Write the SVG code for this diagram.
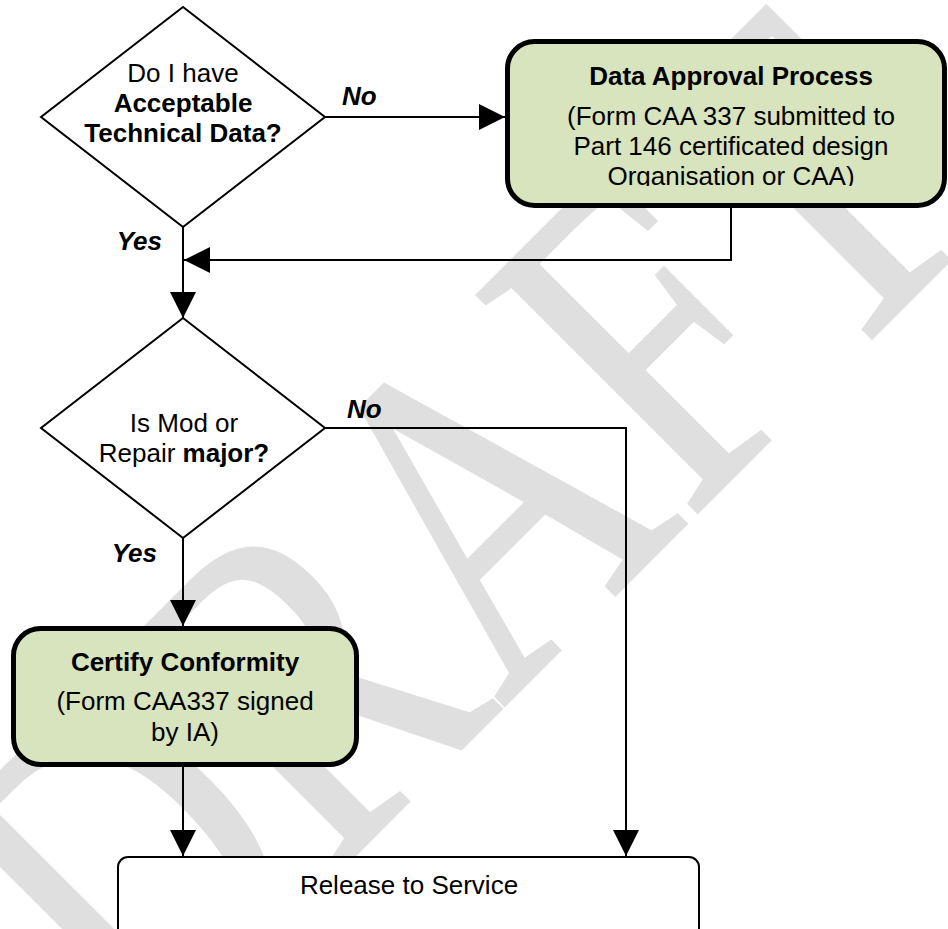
<svg xmlns="http://www.w3.org/2000/svg" width="948" height="929" viewBox="0 0 948 929">
<defs>
<marker id="arr" markerUnits="userSpaceOnUse" markerWidth="26" markerHeight="26" refX="26" refY="13" orient="auto"><path d="M0,0 L26,13 L0,26 z" fill="#000"/></marker>
<clipPath id="clipData"><rect x="505" y="39" width="443" height="147"/></clipPath>
</defs>
<style>
.t{font-family:"Liberation Sans",Arial,sans-serif;font-size:26px;fill:#000;text-anchor:middle}
.b{font-weight:bold}
.lbl{font-family:"Liberation Sans",Arial,sans-serif;font-size:26px;font-weight:bold;font-style:italic;fill:#000}
.dia{fill:#fff;stroke:#000;stroke-width:2}
.proc{fill:#d7e4bd;stroke:#000;stroke-width:5}
.plain{fill:#fff;stroke:#000;stroke-width:2}
.conn{fill:none;stroke:#000;stroke-width:2;marker-end:url(#arr)}
.wm{font-family:"Liberation Serif","Times New Roman",serif;font-size:473px;fill:#dfdfdf;stroke:#dfdfdf;stroke-width:3}
</style>
<rect width="948" height="929" fill="#fff"/>
<g id="watermark">
<text class="wm" transform="translate(143.3,1066.8) rotate(-45) scale(0.772,1)">DRAFT</text>
</g>
<g id="decision1">
<polygon class="dia" points="183,7 325,117 183,227 41,117"/>
<text class="t" x="183" y="82">Do I have</text>
<text class="t b" x="183" y="112">Acceptable</text>
<text class="t b" x="183" y="142">Technical Data?</text>
</g>
<g id="dataApproval">
<rect class="proc" x="507.5" y="41.5" width="437" height="164" rx="27" ry="27"/>
<g clip-path="url(#clipData)">
<text class="t b" x="731" y="85">Data Approval Process</text>
<text class="t" x="731" y="125">(Form CAA 337 submitted to</text>
<text class="t" x="731" y="155">Part 146 certificated design</text>
<text class="t" x="731" y="185">Organisation or CAA)</text>
</g>
</g>
<g id="decision2">
<polygon class="dia" points="183,318 325,428 183,538 41,428"/>
<text class="t" x="184" y="432">Is Mod or</text>
<text class="t" x="184" y="462">Repair <tspan class="b">major?</tspan></text>
</g>
<g id="certify">
<rect class="proc" x="13.5" y="628.5" width="343" height="136" rx="27" ry="27"/>
<text class="t b" x="185" y="671">Certify Conformity</text>
<text class="t" x="185" y="710">(Form CAA337 signed</text>
<text class="t" x="185" y="741">by IA)</text>
</g>
<g id="release">
<rect class="plain" x="118" y="857" width="581" height="95" rx="10" ry="10"/>
<text class="t" x="409" y="894">Release to Service</text>
</g>
<g id="connectors">
<path class="conn" d="M325,117 H505"/>
<path class="conn" d="M731,208 V260 H184"/>
<path class="conn" d="M183,227 V318"/>
<path class="conn" d="M325,428 H626 V856"/>
<path class="conn" d="M183,538 V626"/>
<path class="conn" d="M183,767 V856"/>
<text class="lbl" x="342" y="105">No</text>
<text class="lbl" x="162" y="250" text-anchor="end">Yes</text>
<text class="lbl" x="347" y="418">No</text>
<text class="lbl" x="157" y="562" text-anchor="end">Yes</text>
</g>
</svg>
